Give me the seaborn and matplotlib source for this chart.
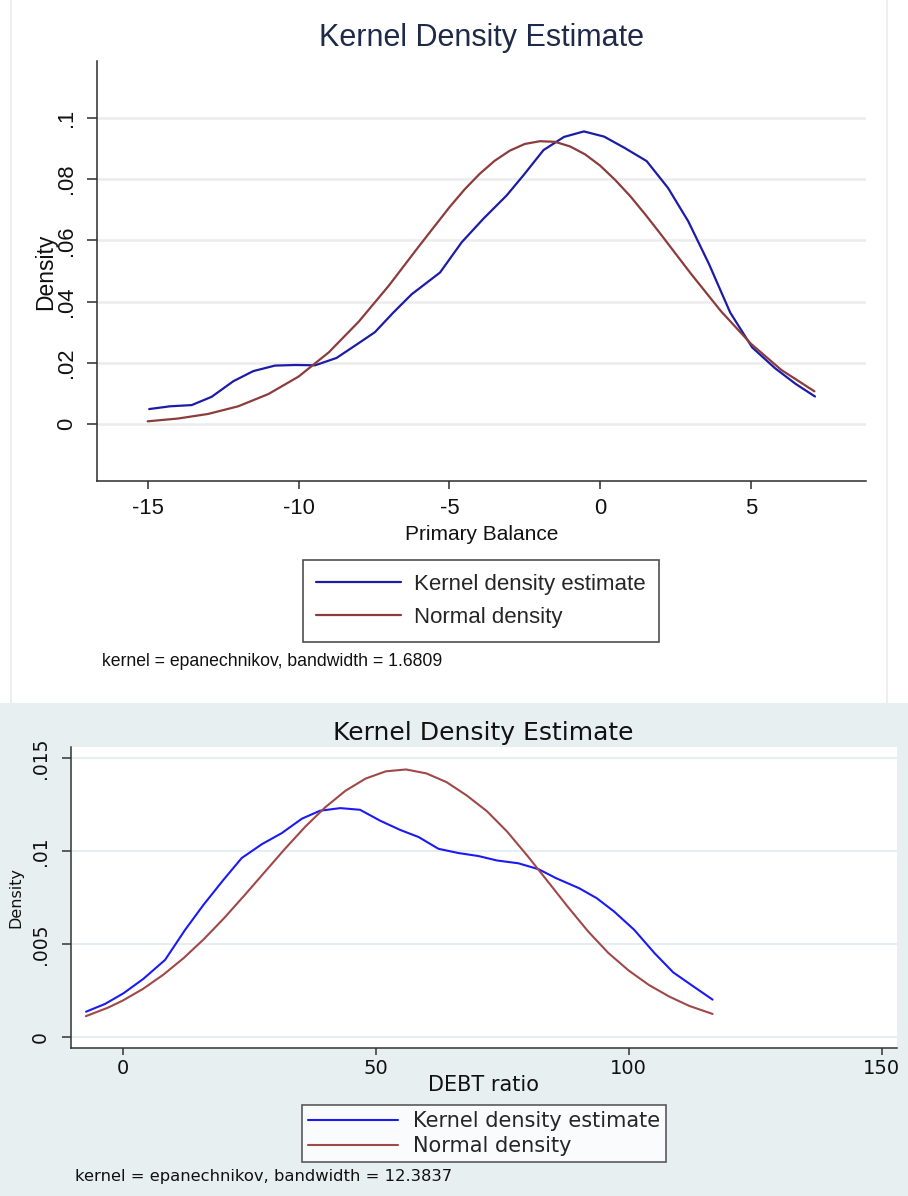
import matplotlib
matplotlib.use('Agg')
import matplotlib.pyplot as plt
import seaborn as sns
from matplotlib.lines import Line2D
from matplotlib.patches import Rectangle

sns.set_style('white')
plt.rcParams['font.family'] = ['Liberation Sans', 'DejaVu Sans']

W, H = 908, 1196   # output size in px

# ---- top chart: primary balance ----
pb_kde_x = [-14.95, -14.26, -13.54, -12.88, -12.16, -11.5, -10.78, -10.12, -9.45,
            -8.74, -8.07, -7.47, -6.86, -6.25, -5.31, -4.59, -3.88, -3.1, -2.55,
            -1.88, -1.2, -0.54, 0.13, 0.81, 1.54, 2.25, 2.92, 3.6, 4.31, 5.04,
            5.8, 6.48, 7.12]
pb_kde_y = [0.0049, 0.0058, 0.0062, 0.0089, 0.0140, 0.0173, 0.0191, 0.0193, 0.0192,
            0.0216, 0.0260, 0.0300, 0.0364, 0.0424, 0.0495, 0.0594, 0.0670, 0.0747,
            0.0812, 0.0895, 0.0938, 0.0956, 0.0939, 0.0902, 0.0859, 0.0771, 0.0662,
            0.0524, 0.0364, 0.0250, 0.0182, 0.0131, 0.0090]
pb_norm_x = [-15, -14, -13, -12, -11, -10, -9, -8, -7, -6, -5, -4.5, -4, -3.5, -3,
             -2.5, -2, -1.5, -1, -0.5, 0, 0.5, 1, 1.5, 2, 3, 4, 5, 6, 7.1]
pb_norm_y = [0.0009, 0.0018, 0.0033, 0.0058, 0.0098, 0.0155, 0.0234, 0.0335, 0.0453,
             0.0582, 0.0708, 0.0766, 0.0817, 0.0860, 0.0893, 0.0915, 0.0924, 0.0922,
             0.0907, 0.0881, 0.0844, 0.0797, 0.0744, 0.0684, 0.0621, 0.0492, 0.0369,
             0.0262, 0.0177, 0.0107]
pb_xticks = [-15, -10, -5, 0, 5]
pb_yticks = [0, 0.02, 0.04, 0.06, 0.08, 0.1]
pb_ylabels = ['0', '.02', '.04', '.06', '.08', '.1']

# ---- bottom chart: debt ratio ----
dr_kde_x = [-7.26, -3.5, 0.12, 4.07, 8.36, 12.3, 15.94, 19.9, 23.5, 27.5, 31.4,
            35.4, 39.0, 43.0, 46.9, 50.9, 54.8, 58.5, 62.4, 66.4, 70.3, 74.0,
            78.2, 82.2, 85.65, 90.2, 93.7, 97.1, 101.1, 105.1, 108.8, 112.6, 116.6]
dr_kde_y = [0.00136, 0.00178, 0.00235, 0.00313, 0.00415, 0.00576, 0.00711, 0.00846,
            0.00963, 0.01038, 0.01097, 0.01175, 0.01218, 0.01232, 0.01223, 0.01164,
            0.01115, 0.01076, 0.01013, 0.00990, 0.00974, 0.00950, 0.00935, 0.00903,
            0.00855, 0.00801, 0.00747, 0.00676, 0.00577, 0.00452, 0.00348, 0.00276,
            0.00201]
dr_norm_x = [-7.3, -3, 0, 4, 8, 12, 16, 20, 24, 28, 32, 36, 40, 44, 48, 52, 56, 60,
             64, 68, 72, 76, 80, 84, 88, 92, 96, 100, 104, 108, 112, 116.6]
dr_norm_y = [0.00112, 0.00157, 0.00196, 0.00259, 0.00335, 0.00424, 0.00526, 0.00639,
             0.00761, 0.00886, 0.01011, 0.01130, 0.01236, 0.01325, 0.01391, 0.01430,
             0.01440, 0.01419, 0.01372, 0.01300, 0.01215, 0.01105, 0.00975, 0.00838,
             0.00700, 0.00568, 0.00452, 0.00358, 0.00280, 0.00218, 0.00167, 0.00124]
dr_xticks = [0, 50, 100, 150]
dr_yticks = [0, 0.005, 0.01, 0.015]
dr_ylabels = ['0', '.005', '.01', '.015']

legend_labels = ['Kernel density estimate', 'Normal density']


def px_axes(fig, left, top, right, bottom):
    # place an axes using pixel edges measured on the reference
    return fig.add_axes([left / W, 1 - bottom / H, (right - left) / W, (bottom - top) / H])


def style_axes(ax, spine_col, grid_col, grid_lw):
    for s in ['top', 'right']:
        ax.spines[s].set_visible(False)
    for s in ['left', 'bottom']:
        ax.spines[s].set_color(spine_col)
        ax.spines[s].set_linewidth(1.1)
    ax.grid(axis='y', color=grid_col, linewidth=grid_lw)
    ax.grid(axis='x', visible=False)
    ax.set_axisbelow(True)
    ax.set_xlabel('')
    ax.set_ylabel('')


fig = plt.figure(figsize=(W / 100, H / 100), dpi=100)
fig.patch.set_facecolor('white')

# bottom half background + faint frame of the top image
fig.add_artist(Rectangle((0, 0), 1, 1 - 703 / H, transform=fig.transFigure,
                         facecolor='#e8eff1', edgecolor='none', zorder=-5))
for xe in [11, 887]:
    fig.add_artist(Line2D([xe / W, xe / W], [1 - 703 / H, 1], transform=fig.transFigure,
                          color='#ebebeb', lw=1.2, zorder=-4))

# ---------------- top chart ----------------
top_blue, top_red = '#1c1ca6', '#8c3c3c'
ax1 = px_axes(fig, 97, 60.7, 866, 481)
sns.lineplot(x=pb_kde_x, y=pb_kde_y, ax=ax1, color=top_blue, lw=1.6, sort=False)
sns.lineplot(x=pb_norm_x, y=pb_norm_y, ax=ax1, color=top_red, lw=1.6, sort=False)
ax1.set_xlim(-16.68, 8.81)
ax1.set_ylim(-0.0186, 0.1187)
ax1.set_xticks(pb_xticks)
ax1.set_xticklabels([str(t) for t in pb_xticks])
ax1.set_yticks(pb_yticks)
ax1.set_yticklabels(pb_ylabels, rotation=90, va='center')
style_axes(ax1, '#2b2b2b', '#ececec', 1.8)
ax1.tick_params(axis='x', length=6, width=1.1, color='#2b2b2b', pad=6.5,
                labelsize=15.8, labelcolor='#111111', bottom=True)
ax1.tick_params(axis='y', length=7.2, width=1.1, color='#2b2b2b', pad=7,
                labelsize=15.8, labelcolor='#111111', left=True)

fig.text(481.5 / W, 1 - 38 / H, 'Kernel Density Estimate', ha='center', va='center',
         fontsize=22, color='#1e2a48')
fig.text(481.5 / W, 1 - 535 / H, 'Primary Balance', ha='center', va='center',
         fontsize=15, color='#111111')
fig.text(46 / W, 1 - 272 / H, 'Density', ha='center', va='center', rotation=90,
         fontsize=16.5, color='#111111')
fig.text(101.5 / W, 1 - 662 / H, 'kernel = epanechnikov, bandwidth = 1.6809',
         ha='left', va='center', fontsize=12.7, color='#111111')

h1 = [Line2D([], [], color=top_blue, lw=1.6), Line2D([], [], color=top_red, lw=1.6)]
leg1 = fig.legend(h1, legend_labels, loc='center', bbox_to_anchor=(481 / W, 1 - 601 / H),
                  fontsize=16, frameon=True, fancybox=False, edgecolor='#222222',
                  handlelength=3.8, handletextpad=0.6, labelspacing=0.55,
                  borderpad=0.62, borderaxespad=0)
leg1.get_frame().set_linewidth(1.2)

# ---------------- bottom chart ----------------
bot_blue, bot_red = '#1a1af5', '#a04848'
ax2 = px_axes(fig, 70.7, 747, 896.7, 1048.3)
ax2.set_facecolor('white')
sns.lineplot(x=dr_kde_x, y=dr_kde_y, ax=ax2, color=bot_blue, lw=1.5, sort=False)
sns.lineplot(x=dr_norm_x, y=dr_norm_y, ax=ax2, color=bot_red, lw=1.5, sort=False)
ax2.set_xlim(-10.3, 153.0)
ax2.set_ylim(-0.00061, 0.01561)
ax2.set_xticks(dr_xticks)
ax2.set_xticklabels([str(t) for t in dr_xticks], family='DejaVu Sans')
ax2.set_yticks(dr_yticks)
ax2.set_yticklabels(dr_ylabels, rotation=90, va='center', family='DejaVu Sans')
style_axes(ax2, '#333333', '#e3edf2', 1.3)
ax2.tick_params(axis='x', length=5, width=1.1, color='#333333', pad=3,
                labelsize=14, labelcolor='#111111', bottom=True)
ax2.tick_params(axis='y', length=6.5, width=1.1, color='#333333', pad=8.5,
                labelsize=13.5, labelcolor='#111111', left=True)

fig.text(483 / W, 1 - 733 / H, 'Kernel Density Estimate', ha='center', va='center',
         fontsize=18, color='#111111', family='DejaVu Sans')
fig.text(483 / W, 1 - 1085 / H, 'DEBT ratio', ha='center', va='center',
         fontsize=15, color='#111111', family='DejaVu Sans')
fig.text(16 / W, 1 - 898 / H, 'Density', ha='center', va='center', rotation=90,
         fontsize=11.5, color='#111111', family='DejaVu Sans')
fig.text(75.3 / W, 1 - 1176 / H, 'kernel = epanechnikov, bandwidth = 12.3837',
         ha='left', va='center', fontsize=11.8, color='#111111', family='DejaVu Sans')

h2 = [Line2D([], [], color=bot_blue, lw=1.5), Line2D([], [], color=bot_red, lw=1.5)]
leg2 = fig.legend(h2, legend_labels, loc='center', bbox_to_anchor=(483.8 / W, 1 - 1133.4 / H),
                  prop={'family': 'DejaVu Sans', 'size': 15}, frameon=True,
                  fancybox=False, edgecolor='#333333', handlelength=4.3,
                  handletextpad=0.72, labelspacing=0.23, borderpad=0.29, borderaxespad=0)
leg2.get_frame().set_linewidth(1.2)

fig.savefig('out.png', dpi=100)
